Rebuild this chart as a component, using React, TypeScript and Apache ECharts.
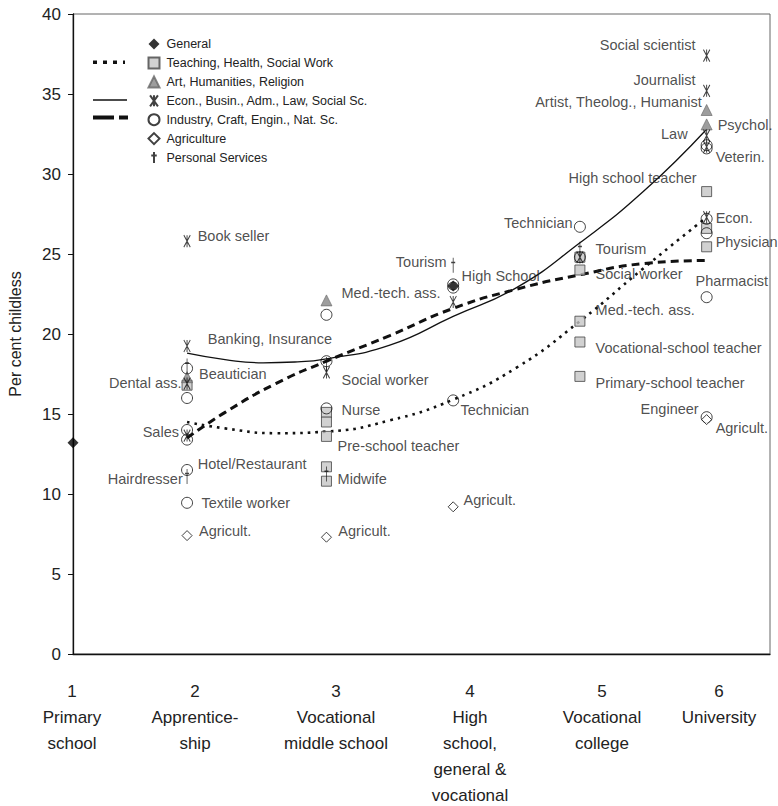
import React, { useEffect, useRef } from "react";
import * as echarts from "echarts";

const FONT = "'Liberation Sans', Arial, Helvetica, sans-serif";

// ---- point data [education level, per cent childless] ----
const general: number[][] = [[1, 13.2], [4, 23.0]];
const teaching: number[][] = [
  [1.9, 16.8], [3, 15.1], [3, 14.5], [3, 13.6], [3, 11.7], [3, 10.8],
  [5, 24.8], [5, 24.0], [5, 20.8], [5, 19.5], [5, 17.35],
  [6, 28.9], [6, 26.6], [6, 25.45],
];
const art: number[][] = [[1.9, 17.3], [3, 22.1], [6, 34.0], [6, 33.1]];
const econ: number[][] = [
  [1.9, 25.8], [1.9, 19.25], [1.9, 16.9], [1.9, 13.65], [3, 17.6], [4, 22.0],
  [5, 24.8], [6, 37.4], [6, 35.2], [6, 32.4], [6, 31.7], [6, 27.3],
];
const industry: number[][] = [
  [1.9, 17.85], [1.9, 16.0], [1.9, 14.0], [1.9, 13.4], [1.9, 11.5], [1.9, 9.45],
  [3, 21.2], [3, 18.3], [3, 15.35], [4, 23.1], [4, 22.9], [4, 15.85],
  [5, 26.7], [5, 24.8], [6, 31.8], [6, 31.6], [6, 27.2], [6, 26.3], [6, 22.3], [6, 14.8],
];
const agriculture: number[][] = [[1.9, 7.4], [3, 7.3], [4, 9.2], [6, 14.65]];
const personal: number[][] = [[1.9, 18.0], [1.9, 11.1], [3, 18.1], [3, 11.25], [4, 24.3], [5, 25.3]];

// ---- trend lines ----
const trendTeaching: number[][] = [
  [1.9, 14.5], [2.2, 14.1], [2.6, 13.8], [3, 13.9], [3.5, 14.6], [4, 15.9],
  [4.5, 17.9], [5, 20.8], [5.5, 24.1], [6, 27.3],
];
const trendEcon: number[][] = [
  [1.9, 18.8], [2.2, 18.4], [2.5, 18.2], [2.75, 18.25], [3, 18.45], [3.5, 19.3],
  [4, 21.1], [4.5, 22.9], [5, 25.7], [5.5, 28.9], [6, 32.8],
];
const trendIndustry: number[][] = [
  [1.9, 13.5], [2.2, 15.1], [2.6, 16.9], [3, 18.3], [3.5, 19.9], [4, 21.6],
  [4.5, 22.8], [5, 23.7], [5.5, 24.4], [6, 24.6],
];

// ---- annotations ----
const noteText = [
  "Book seller", "Banking, Insurance", "Beautician", "Dental ass.", "Sales",
  "Hotel/Restaurant", "Hairdresser", "Textile worker", "Agricult.",
  "Med.-tech. ass.", "Social worker", "Nurse", "Pre-school teacher", "Midwife", "Agricult.",
  "Tourism", "High School", "Technician", "Agricult.",
  "Technician", "Tourism", "Social worker", "Med.-tech. ass.", "Vocational-school teacher",
  "Primary-school teacher", "Pharmacist", "Engineer", "Agricult.", "Econ.", "Physician",
  "Social scientist", "Journalist", "Artist, Theolog., Humanist", "Psychol.", "Law",
  "Veterin.", "High school teacher",
];
const noteX = [
  1.98, 2.06, 1.99, 1.86, 1.84,
  1.98, 1.87, 2.01, 1.99,
  3.115, 3.115, 3.115, 3.084, 3.084, 3.09,
  3.952, 4.062, 4.054, 4.078,
  4.946, 5.12, 5.12, 5.12, 5.12,
  5.12, 5.909, 5.941, 6.067, 6.067, 6.067,
  5.917, 5.917, 5.965, 6.083, 5.854,
  6.067, 5.925,
];
const noteY = [
  26.13, 19.69, 17.5, 16.94, 13.88,
  11.88, 10.94, 9.44, 7.7,
  22.56, 17.13, 15.25, 13.0, 10.94, 7.69,
  24.5, 23.63, 15.25, 9.63,
  26.94, 25.31, 23.75, 21.5, 19.13,
  16.94, 23.31, 15.31, 14.13, 27.25, 25.75,
  38.06, 35.88, 34.5, 33.06, 32.5,
  31.06, 29.75,
];
// "L": text starts at anchor; "R": text ends at anchor
const noteSide = [
  "L", "L", "L", "R", "R",
  "L", "R", "L", "L",
  "L", "L", "L", "L", "L", "L",
  "R", "L", "L", "L",
  "R", "L", "L", "L", "L",
  "L", "L", "R", "L", "L", "L",
  "R", "R", "R", "L", "R",
  "L", "R",
];

// ---- x axis labels ----
const xTickNums = ["1", "2", "3", "4", "5", "6"];
const xTickNames = [
  "Primary\nschool", "Apprentice-\nship", "Vocational\nmiddle school",
  "High\nschool,\ngeneral &\nvocational", "Vocational\ncollege", "University",
];
const xLabelPx = [72, 195, 336, 470, 602, 719];

const seriesNames = [
  "General", "Teaching, Health, Social Work", "Art, Humanities, Religion",
  "Econ., Busin., Adm., Law, Social Sc.", "Industry, Craft, Engin., Nat. Sc.",
  "Agriculture", "Personal Services",
];

const ECON_SYM = "path://M0,0L10,14M10,0L0,14M5,0L5,14";
const PERS_SYM = "path://M4,0L4,16M0,5L8,5";

export default function App() {
  const ref = useRef<HTMLDivElement>(null);
  useEffect(() => {
    if (!ref.current) return;
    const chart = echarts.init(ref.current, null, { renderer: "svg" });

    const scatter = (name: string, data: number[][], symbol: string, size: any, itemStyle: any) => ({
      type: "scatter",
      name,
      data,
      symbol,
      symbolSize: size,
      symbolKeepAspect: true,
      itemStyle,
      z: 4,
      silent: true,
    });

    const trend = (data: number[][], lineStyle: any) => ({
      type: "line",
      data,
      smooth: true,
      showSymbol: false,
      symbol: "none",
      lineStyle,
      z: 3,
      silent: true,
    });

    const graphic: any[] = [
      { type: "line", shape: { x1: 93, y1: 62.3, x2: 125, y2: 62.3 }, style: { stroke: "#111", lineWidth: 3.5, lineDash: [4, 6] } },
      { type: "line", shape: { x1: 93, y1: 100, x2: 127, y2: 100 }, style: { stroke: "#111", lineWidth: 1.4 } },
      { type: "line", shape: { x1: 93, y1: 117.5, x2: 128, y2: 117.5 }, style: { stroke: "#111", lineWidth: 4, lineDash: [21, 5] } },
    ];
    xTickNums.forEach((n, i) => {
      graphic.push({
        type: "text",
        x: xLabelPx[i],
        y: 679,
        style: {
          text: n + "\n" + xTickNames[i],
          align: "center",
          verticalAlign: "top",
          font: "17px " + FONT,
          lineHeight: 25.8,
          fill: "#222",
        },
      });
    });

    const option: any = {
      animation: false,
      backgroundColor: "#fff",
      grid: {
        left: 73, right: 8, top: 14, bottom: 152,
        show: true, borderColor: "#666", borderWidth: 1,
        containLabel: false, outerBoundsMode: "none",
      },
      xAxis: {
        type: "value",
        min: 1,
        max: 6.5,
        axisLine: { show: true, onZero: false, lineStyle: { color: "#111", width: 1.3 } },
        axisTick: { show: false },
        axisLabel: { show: false },
        splitLine: { show: false },
      },
      yAxis: {
        type: "value",
        min: 0,
        max: 40,
        interval: 5,
        name: "Per cent childless",
        nameLocation: "middle",
        nameGap: 50,
        nameTextStyle: { fontSize: 16, color: "#222", fontFamily: FONT },
        axisLine: { show: true, lineStyle: { color: "#111", width: 1.3 } },
        axisTick: { show: true, length: 5, lineStyle: { color: "#111" } },
        axisLabel: { fontSize: 17, color: "#222", margin: 12, fontFamily: FONT },
        splitLine: { show: false },
      },
      legend: {
        orient: "vertical",
        left: 142.5,
        top: 32.6,
        padding: 5,
        itemWidth: 11,
        itemHeight: 11,
        itemGap: 5.9,
        selectedMode: false,
        data: seriesNames,
        textStyle: { fontSize: 12.5, color: "#222", fontFamily: FONT, padding: [0, 0, 0, 2] },
      },
      series: [
        trend(trendTeaching, { color: "#111", width: 2.6, type: [2.6, 5], cap: "butt" }),
        trend(trendEcon, { color: "#111", width: 1.3 }),
        trend(trendIndustry, { color: "#111", width: 3, type: [8, 5] }),
        scatter(seriesNames[0], general, "diamond", 11, { color: "#000" }),
        scatter(seriesNames[1], teaching, "rect", 10, { color: "#c6c6c6", borderColor: "#444", borderWidth: 1 }),
        scatter(seriesNames[2], art, "triangle", 11, { color: "#858585", borderColor: "#666", borderWidth: 0.8 }),
        scatter(seriesNames[3], econ, ECON_SYM, [9, 12], { color: "transparent", borderColor: "#111", borderWidth: 1.1 }),
        scatter(seriesNames[4], industry, "circle", 11, { color: "transparent", borderColor: "#111", borderWidth: 1 }),
        scatter(seriesNames[5], agriculture, "diamond", 10, { color: "#fff", borderColor: "#111", borderWidth: 1 }),
        scatter(seriesNames[6], personal, PERS_SYM, [8, 15], { color: "transparent", borderColor: "#111", borderWidth: 1.1 }),
        {
          type: "scatter",
          name: "notes",
          silent: true,
          symbolSize: 1,
          itemStyle: { color: "transparent" },
          z: 6,
          data: noteText.map((t, i) => ({
            name: t,
            value: [noteX[i], noteY[i]],
            label: { position: noteSide[i] === "L" ? "right" : "left", distance: 0 },
          })),
          label: {
            show: true,
            formatter: (p: any) => p.name,
            fontSize: 14.5,
            color: "#222",
            fontFamily: FONT,
          },
          labelLayout: { hideOverlap: false },
        },
      ],
      graphic,
    };
    chart.setOption(option);
    return () => chart.dispose();
  }, []);

  return (
    <div
      ref={ref}
      style={{ position: "fixed", left: 0, top: 0, width: 778, height: 806, background: "#fff" }}
    />
  );
}
